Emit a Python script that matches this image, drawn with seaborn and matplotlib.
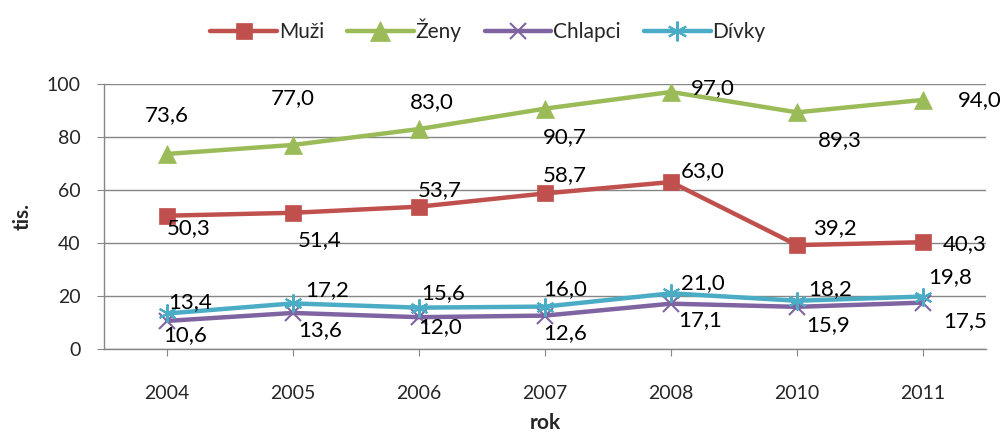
import matplotlib

matplotlib.use("Agg")
import matplotlib.pyplot as plt
import pandas as pd
import seaborn as sns

YEARS = ["2004", "2005", "2006", "2007", "2008", "2010", "2011"]
MUZI = [50.3, 51.4, 53.7, 58.7, 63.0, 39.2, 40.3]
ZENY = [73.6, 77.0, 83.0, 90.7, 97.0, 89.3, 94.0]
CHLAPCI = [10.6, 13.6, 12.0, 12.6, 17.1, 15.9, 17.5]
DIVKY = [13.4, 17.2, 15.6, 16.0, 21.0, 18.2, 19.8]

SERIES = [
    ("Muži", MUZI, "#C0504D", "s", 11, 1),
    ("Ženy", ZENY, "#9BBB59", "^", 13, 1),
    ("Chlapci", CHLAPCI, "#8064A2", "x", 11, 2),
    ("Dívky", DIVKY, "#4BACC6", (6, 2, 0), 13, 2),
]

# label offsets in pixels (dx, dy) from the point, as placed in the original
LABEL_OFFSETS = {
    "Muži": [(22, -12), (27, -27), (21, 17), (20, 18), (32, 11), (38, 17), (42, -2)],
    "Ženy": [(0, 39), (0, 47), (13, 27), (20, -28), (42, 4), (43, -28), (57, 0)],
    "Chlapci": [(18, -14), (27, -17), (21, -10), (20, -17), (29, -16), (31, -18), (42, -18)],
    "Dívky": [(23, 11), (34, 13), (24, 15), (20, 17), (32, 10), (33, 12), (27, 19)],
}


def main() -> None:
    sns.set_style("white")
    plt.rcParams["font.family"] = ["Lato", "DejaVu Sans"]

    frame = pd.concat(
        [
            pd.DataFrame({"pos": range(len(YEARS)), "value": values, "series": name})
            for name, values, *_ in SERIES
        ],
        ignore_index=True,
    )

    fig = plt.figure(figsize=(10, 4.37), dpi=100)
    ax = fig.add_axes([0.104, 0.2014, 0.882, 0.6064])

    for name, values, color, marker, size, zorder in SERIES:
        sub = frame[frame["series"] == name]
        sns.lineplot(
            data=sub,
            x="pos",
            y="value",
            color=color,
            linewidth=3.2,
            marker=marker,
            markersize=size,
            markeredgecolor=color,
            markeredgewidth=1.5 if marker in ("x", (6, 2, 0)) else 0.5,
            label=name,
            zorder=3 + zorder,
            ax=ax,
        )
        for i, v in enumerate(values):
            dx, dy = LABEL_OFFSETS[name][i]
            ax.annotate(
                f"{v:.1f}".replace(".", ","),
                (i, v),
                xytext=(dx, dy),
                textcoords="offset pixels",
                ha="center",
                va="center",
                fontsize=16,
                color="black",
                zorder=10,
            )

    ax.set_xlim(-0.5, len(YEARS) - 0.5)
    ax.set_ylim(0, 100)
    ax.set_yticks(range(0, 101, 20))
    ax.set_xticks(range(len(YEARS)))
    ax.set_xticklabels(YEARS)
    ax.tick_params(axis="both", labelsize=14, length=5, color="#868686", direction="out",
                   bottom=True, left=True)
    ax.tick_params(axis="x", pad=21)
    ax.tick_params(axis="y", pad=12)
    ax.yaxis.grid(True, color="#868686", linewidth=1)
    ax.set_axisbelow(True)
    for side in ("top", "right"):
        ax.spines[side].set_visible(False)
    for side in ("left", "bottom"):
        ax.spines[side].set_color("#868686")
        ax.spines[side].set_linewidth(1)

    ax.set_xlabel("rok", fontsize=15, fontweight="bold", labelpad=8)
    ax.set_ylabel("tis.", fontsize=15, fontweight="bold", labelpad=10)

    handles, labels = ax.get_legend_handles_labels()
    ax.legend(
        handles,
        labels,
        loc="upper center",
        bbox_to_anchor=(0.488, 1.0),
        bbox_transform=fig.transFigure,
        ncol=4,
        frameon=False,
        fontsize=15,
        handlelength=3.2,
        handletextpad=0.1,
        columnspacing=1.1,
        markerscale=1.1,
    )

    fig.savefig("out.png", dpi=100)
    plt.close(fig)


if __name__ == "__main__":
    main()
